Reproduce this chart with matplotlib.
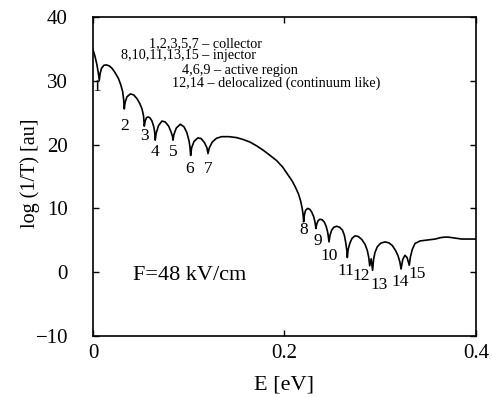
import matplotlib
matplotlib.use("Agg")
import matplotlib.pyplot as plt

# curve: energy [eV] and log(1/T) [au]
energy = [
    0.0, 0.002, 0.004, 0.0055, 0.0066,
    0.0075, 0.009, 0.0115, 0.014, 0.017, 0.020, 0.023, 0.0265, 0.029, 0.031, 0.032, 0.0327,
    0.0335, 0.0355, 0.039, 0.0425, 0.046, 0.049, 0.0512, 0.0528, 0.0536,
    0.0545, 0.0558, 0.0575, 0.0595, 0.0616, 0.0635, 0.0645, 0.065,
    0.066, 0.0685, 0.072, 0.0755, 0.079, 0.0815, 0.083, 0.0836,
    0.0845, 0.087, 0.0912, 0.095, 0.098, 0.1003, 0.1013, 0.102,
    0.103, 0.1055, 0.1095, 0.113, 0.1165, 0.119, 0.1201,
    0.1215, 0.1245, 0.129, 0.1344, 0.142, 0.150, 0.157, 0.164, 0.171, 0.178, 0.185,
    0.1918, 0.198, 0.2035, 0.208, 0.2115, 0.2145, 0.2168, 0.2185, 0.2195, 0.2200,
    0.2208, 0.222, 0.2242, 0.2265, 0.2285, 0.2305, 0.2318, 0.2328,
    0.2338, 0.2352, 0.237, 0.2395, 0.2416, 0.2435, 0.2452, 0.2465,
    0.2475, 0.2493, 0.2515, 0.2545, 0.2575, 0.2605, 0.2625, 0.264, 0.2651, 0.2656,
    0.2665, 0.2684, 0.2705, 0.2736, 0.277, 0.2806, 0.284, 0.2865, 0.288, 0.289,
    0.2905, 0.292,
    0.293, 0.2945, 0.297, 0.3005, 0.305, 0.309, 0.3125, 0.316, 0.3185, 0.3205, 0.3217,
    0.3235, 0.3258, 0.328, 0.3303,
    0.3315, 0.3335, 0.3363, 0.3415, 0.347, 0.352, 0.3575, 0.3624, 0.367, 0.371,
    0.3755, 0.3796, 0.385, 0.39, 0.395, 0.4,
]
log_inv_t = [
    34.9, 33.9, 32.6, 31.3, 30.1,
    31.2, 32.0, 32.45, 32.5, 32.35, 31.95, 31.3, 30.4, 29.4, 28.3, 27.1, 25.6,
    26.6, 27.5, 27.95, 27.8, 27.2, 26.4, 25.6, 24.5, 22.9,
    23.7, 24.2, 24.35, 24.2, 23.7, 22.8, 21.9, 20.7,
    21.8, 23.0, 23.7, 23.55, 22.9, 22.0, 21.3, 20.7,
    21.6, 22.6, 23.2, 22.8, 21.9, 20.6, 19.6, 18.3,
    19.5, 20.5, 21.05, 20.95, 20.3, 19.5, 18.6,
    19.5, 20.4, 21.0, 21.25, 21.25, 21.1, 20.8, 20.4, 19.8, 19.1, 18.3,
    17.5, 16.5, 15.3, 14.3, 13.3, 12.3, 11.2, 10.0, 8.9, 7.9,
    9.0, 9.7, 10.0, 9.85, 9.4, 8.7, 7.9, 6.85,
    7.6, 8.1, 8.3, 8.2, 7.85, 7.2, 6.2, 4.75,
    5.8, 6.6, 7.05, 7.2, 7.05, 6.6, 5.8, 4.6, 3.4, 2.3,
    3.6, 4.6, 5.3, 5.7, 5.6, 5.15, 4.4, 3.4, 2.3, 1.0,
    2.1, 0.3,
    2.0, 3.1, 4.0, 4.55, 4.75, 4.6, 4.2, 3.4, 2.6, 1.6, 0.5,
    2.0, 2.65, 2.3, 1.1,
    2.4, 3.6, 4.5, 4.9, 5.0, 5.1, 5.2, 5.4, 5.5, 5.5,
    5.4, 5.3, 5.2, 5.2, 5.2, 5.2,
]

# resonance labels next to the dips
dip_labels = [str(i) for i in range(1, 16)]
dip_label_x = [0.0038, 0.0327, 0.0536, 0.0644, 0.0839, 0.1013, 0.1198, 0.2197,
               0.2343, 0.2468, 0.2642, 0.2806, 0.299, 0.3213, 0.338]
dip_label_y = [29.0, 23.0, 21.3, 18.9, 18.9, 16.2, 16.2, 6.6,
               4.9, 2.5, 0.2, -0.6, -2.0, -1.5, -0.3]

# key text, one line per group of states
legend_lines = ["1,2,3,5,7 \u2013 collector",
                "8,10,11,13,15 \u2013 injector",
                "4,6,9 \u2013 active region",
                "12,14 \u2013 delocalized (continuum like)"]
legend_x = [0.0588, 0.0289, 0.0927, 0.0822]
legend_y = [35.9, 33.9, 31.7, 29.6]

plt.rcParams['font.family'] = ['Liberation Serif', 'DejaVu Serif']

fig = plt.figure(figsize=(4.92, 3.97), dpi=100)
ax = fig.add_axes([0.189, 0.1537, 0.7785, 0.8033])

ax.plot(energy, log_inv_t, color='black', lw=1.2)

for lab, x, y in zip(dip_labels, dip_label_x, dip_label_y):
    ax.text(x, y, lab, ha='center', va='center', fontsize=12.5)

for line, x, y in zip(legend_lines, legend_x, legend_y):
    ax.text(x, y, line, ha='left', va='center', fontsize=10.2)

ax.text(0.0418, -0.5, "F=48 kV/cm", ha='left', va='center', fontsize=16)

ax.set_xlim(0, 0.4)
ax.set_ylim(-10, 40)
ax.set_xticks([0, 0.2, 0.4])
ax.set_xticklabels(['0', '0.2', '0.4'])
ax.set_yticks([-10, 0, 10, 20, 30, 40])
ax.set_yticklabels(['\u221210', '0', '10', '20', '30', '40'])
ax.tick_params(direction='in', length=4, width=1, labelsize=15,
               top=True, right=True)
ax.tick_params(axis='x', pad=6)
ax.tick_params(axis='y', pad=18)
for sp in ax.spines.values():
    sp.set_linewidth(1.2)

ax.set_xlabel('E [eV]', fontsize=16)
ax.set_ylabel('log (1/T) [au]', fontsize=14.5)
ax.xaxis.set_label_coords(0.4987, -0.1536)
ax.yaxis.set_label_coords(-0.165, 0.509)
ax.xaxis.label.set_va('center')
ax.yaxis.label.set_va('center')

fig.savefig('out.png', dpi=100)
